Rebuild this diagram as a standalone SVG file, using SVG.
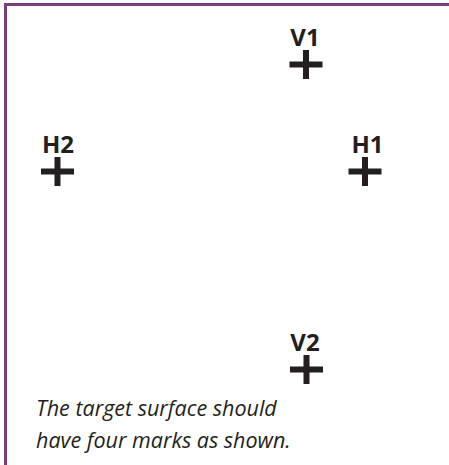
<svg xmlns="http://www.w3.org/2000/svg" width="449" height="465" viewBox="0 0 449 465">
<style>
.frame{fill:none;stroke:#7a3f78;stroke-width:3}
.mark{stroke:#231f20;stroke-width:6;fill:none}
.lbl{font-family:"Open Sans","Liberation Sans",sans-serif;font-weight:bold;font-size:24px;fill:#231f20;text-anchor:middle}
.note{font-family:"Open Sans","Liberation Sans",sans-serif;font-style:italic;font-size:21.5px;fill:#231f20}
</style>
<rect width="449" height="465" fill="#ffffff"/>
<path class="frame" d="M5.5,465 V4.5 H449"/>
<defs>
<g id="cross"><path d="M-16.5,0 H16.5 M0,-14.5 V14.5"/></g>
</defs>
<g id="V1">
<text class="lbl" x="305" y="45.5">V1</text>
<use href="#cross" class="mark" x="306" y="64.5"/>
</g>
<g id="H2">
<text class="lbl" x="58" y="153">H2</text>
<use href="#cross" class="mark" x="57.5" y="171.5"/>
</g>
<g id="H1">
<text class="lbl" x="367.5" y="153">H1</text>
<use href="#cross" class="mark" x="365" y="171.5"/>
</g>
<g id="V2">
<text class="lbl" x="305" y="350.5">V2</text>
<use href="#cross" class="mark" x="306.5" y="369.5"/>
</g>
<g id="caption">
<text class="note" x="36" y="415.5">The target surface should</text>
<text class="note" x="36" y="448">have four marks as shown.</text>
</g>
</svg>
